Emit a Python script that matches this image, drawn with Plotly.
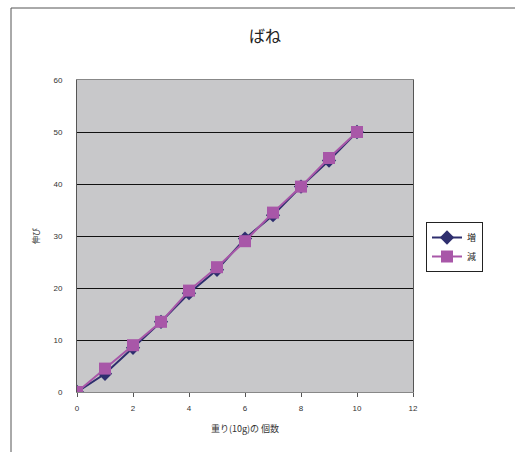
import plotly.graph_objects as go

x_vals = [0, 1, 2, 3, 4, 5, 6, 7, 8, 9, 10]
inc_vals = [0, 3.5, 8.5, 13.5, 19, 23.5, 29.5, 34, 39.5, 44.5, 50]
dec_vals = [0, 4.5, 9, 13.5, 19.5, 24, 29, 34.5, 39.5, 45, 50]
names = ["増", "減"]
title = "ばね"
x_title = "重り(10g)の 個数"
y_title = "伸び"

W, H = 515, 452
L, R, T, B = 77, 413, 80, 392
pw, ph = R - L, B - T

font = "Noto Sans CJK JP"
tickfont = dict(family="Liberation Sans", size=8, color="#333333")

fig = go.Figure()
fig.add_trace(go.Scatter(x=x_vals, y=inc_vals, name=names[0], mode="lines+markers",
                         line=dict(color="#2E2E6E", width=2),
                         marker=dict(symbol="diamond", size=11, color="#2E2E6E")))
fig.add_trace(go.Scatter(x=x_vals, y=dec_vals, name=names[1], mode="lines+markers",
                         line=dict(color="#A857A8", width=2),
                         marker=dict(symbol="square", size=12, color="#A857A8")))

fig.update_layout(
    width=W, height=H,
    margin=dict(l=L, r=W - R, t=T, b=H - B),
    paper_bgcolor="white", plot_bgcolor="#C8C8CA",
    font=dict(family=font, size=8, color="#333333"),
    title=dict(text=title, x=(265 - L) / pw, xref="paper", y=1 - 36 / H, yanchor="middle",
               font=dict(size=16, color="#222222", family=font)),
    xaxis=dict(range=[0, 12], dtick=2, showgrid=False, zeroline=False,
               ticks="outside", ticklen=4, tickcolor="#555555", tickfont=tickfont,
               ticklabelstandoff=4,
               showline=True, linecolor="#888888", linewidth=1, mirror=True,
               title=dict(text=x_title, font=dict(size=9), standoff=14)),
    yaxis=dict(range=[0, 60], dtick=10, showgrid=True, gridcolor="#111111", gridwidth=1,
               zeroline=False, ticks="", ticklabelstandoff=12, tickfont=tickfont,
               showline=True, linecolor="#555555", linewidth=1, mirror=True,
               title=dict(text=y_title, font=dict(size=8), standoff=12)),
    legend=dict(x=(426 - L) / pw, y=(B - 222) / ph, xanchor="left", yanchor="top",
                bordercolor="#222222", borderwidth=1, bgcolor="white",
                font=dict(size=9, color="#222222", family=font), itemwidth=30, tracegroupgap=0),
    shapes=[dict(type="line", xref="paper", yref="paper",
                 x0=(11 - L) / pw, x1=(11 - L) / pw, y0=(B - 460) / ph, y1=(B - 8) / ph,
                 line=dict(color="#555555", width=1)),
            dict(type="line", xref="paper", yref="paper",
                 x0=(11 - L) / pw, x1=(530 - L) / pw, y0=(B - 8) / ph, y1=(B - 8) / ph,
                 line=dict(color="#555555", width=1))],
)
fig.write_html("out.html")
